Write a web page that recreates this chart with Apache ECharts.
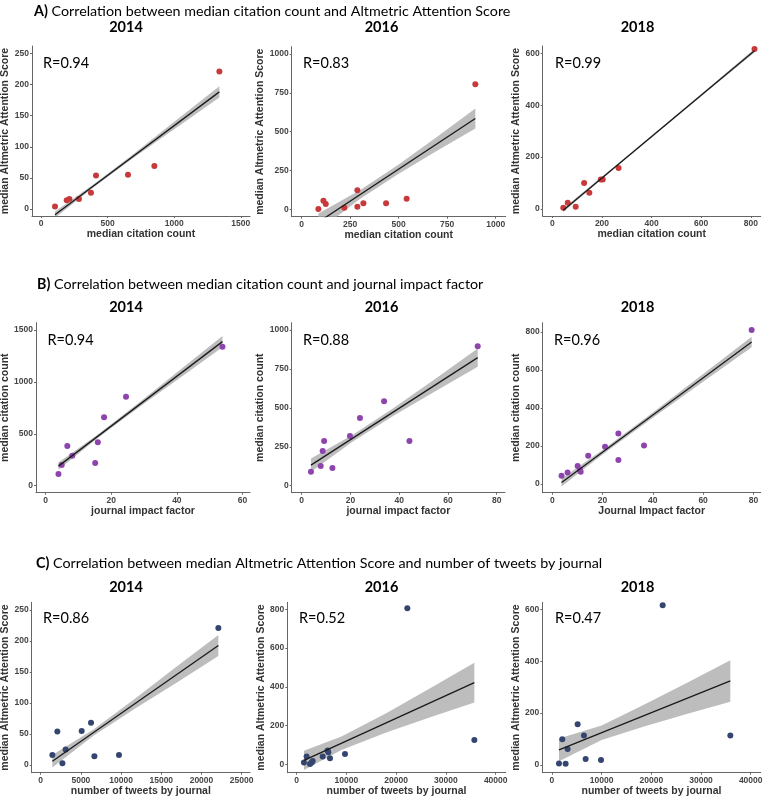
<!DOCTYPE html>
<html>
<head>
<meta charset="utf-8">
<script src="https://cdn.jsdelivr.net/npm/echarts@6/dist/echarts.min.js"></script>
<style>
  html, body { margin: 0; padding: 0; background: #fff; }
  #main { width: 765px; height: 798px; }
</style>
</head>
<body>
<div id="main"></div>
<script>
// ---- data ----
// A) median citation count vs median Altmetric Attention Score
var a14Cite = [105, 193, 213, 285, 375, 413, 653, 851, 1339];
var a14Alt  = [4, 14, 16, 16, 26, 54, 55, 69, 221];
var a16Cite = [86, 112, 124, 220, 287, 287, 318, 435, 541, 895];
var a16Alt  = [2, 56, 34, 11, 124, 17, 39, 39, 69, 805];
var a18Cite = [44, 62, 94, 128, 149, 195, 203, 267, 815];
var a18Alt  = [5, 24, 9, 100, 63, 114, 114, 158, 616];

// B) journal impact factor vs median citation count
var b14Jif  = [3.9, 4.9, 6.6, 8.1, 15.1, 15.9, 17.8, 24.5, 53.9];
var b14Cite = [112, 199, 382, 289, 218, 418, 659, 858, 1340];
var b16Jif  = [3.8, 7.8, 8.6, 9.2, 12.6, 19.8, 23.9, 33.8, 44.2, 72.2];
var b16Cite = [90, 126, 223, 287, 113, 319, 435, 542, 287, 895];
var b18Jif  = [3.7, 6.1, 10.1, 11, 11.3, 14.3, 21, 26.3, 26.3, 36.5, 79.3];
var b18Cite = [44, 61, 95, 74, 65, 149, 196, 266, 126, 203, 809];

// C) number of tweets by journal vs median Altmetric Attention Score
var c14Tweets = [1450, 2070, 2700, 3100, 5100, 6260, 6680, 9740, 22100];
var c14Alt    = [16, 54, 3, 25, 55, 68, 14, 16, 221];
var c16Tweets = [1470, 2010, 2680, 3015, 3220, 5230, 6230, 6365, 6700, 9715, 22245, 35710];
var c16Alt    = [9, 40, 2, 10, 17, 40, 71, 62, 31, 53, 805, 126];
var c18Tweets = [1410, 2080, 2750, 3150, 5170, 6440, 6780, 9870, 22280, 35900];
var c18Alt    = [6, 99, 5, 62, 157, 114, 23, 19, 616, 114];

var rLabels = ['R=0.94', 'R=0.83', 'R=0.99', 'R=0.94', 'R=0.88', 'R=0.96', 'R=0.86', 'R=0.52', 'R=0.47'];
var years = ['2014', '2016', '2018'];

// confidence band: x positions and half widths (y units) read from the grey ribbons
var a14BandX = [105, 400, 700, 1000, 1339],   a14Half = [5, 2.5, 3, 6, 9];
var a16BandX = [86, 300, 500, 700, 895],      a16Half = [55, 28, 30, 45, 64];
var a18BandX = [44, 250, 450, 650, 815],      a18Half = [7, 4, 4, 5, 7];
var b14BandX = [3.9, 16, 29, 41, 53.9],       b14Half = [35, 18, 22, 38, 55];
var b16BandX = [3.8, 21, 38, 55, 72.2],       b16Half = [43, 22, 25, 40, 59];
var b18BandX = [3.7, 20, 40, 60, 79.3],       b18Half = [21, 12, 14, 20, 28];
var c14BandX = [1450, 6600, 11800, 17000, 22100], c14Half = [10, 5, 8, 13, 17];
var c16BandX = [1470, 9000, 18000, 27000, 35710], c16Half = [50, 35, 50, 75, 103];
var c18BandX = [1410, 10000, 18700, 27300, 35900], c18Half = [44, 28, 42, 60, 80];

// tick labels
var ticks250 = [0, 50, 100, 150, 200, 250];
var ticks1000q = [0, 250, 500, 750, 1000];
var ticks600 = [0, 200, 400, 600];
var ticks800 = [0, 200, 400, 600, 800];
var ticks1500 = [0, 500, 1000, 1500];
var ticksJif60 = [0, 20, 40, 60];
var ticksJif80 = [0, 20, 40, 60, 80];
var ticksTw25k = [0, 5000, 10000, 15000, 20000, 25000];
var ticksTw40k = [0, 10000, 20000, 30000, 40000];

// ---- chart ----
var RED = '#c8393b', PURPLE = '#8e44ad', NAVY = '#34466f';
var FONT = 'Liberation Sans';
var TFONT = 'Lato';

var panels = [
  {x: a14Cite, y: a14Alt, bx: a14BandX, bh: a14Half, c: RED,
   g: [32, 46, 218, 170], xr: [-67.6, 1569], yr: [-11.2, 261.8], xt: ticks1500, yt: ticks250,
   xn: 'median citation count', yn: 'median Altmetric Attention Score', yg: 17},
  {x: a16Cite, y: a16Alt, bx: a16BandX, bh: a16Half, c: RED,
   g: [291.7, 46.7, 214, 170], xr: [-51.5, 1051.5], yr: [-47, 1047], xt: ticks1000q, yt: ticks1000q,
   xn: 'median citation count', yn: 'median Altmetric Attention Score', yg: 20.4},
  {x: a18Cite, y: a18Alt, bx: a18BandX, bh: a18Half, c: RED,
   g: [542.7, 46, 218, 170], xr: [-39, 840], yr: [-27, 628], xt: ticks800, yt: ticks600,
   xn: 'median citation count', yn: 'median Altmetric Attention Score', yg: 16.7},
  {x: b14Jif, y: b14Cite, bx: b14BandX, bh: b14Half, c: PURPLE,
   g: [36, 322.7, 214, 170], xr: [-2.95, 62.3], yr: [-67, 1571], xt: ticksJif60, yt: ticks1500,
   xn: 'journal impact factor', yn: 'median citation count', yg: 20},
  {x: b16Jif, y: b16Cite, bx: b16BandX, bh: b16Half, c: PURPLE,
   g: [291.7, 322.7, 213.3, 170], xr: [-4.1, 83.4], yr: [-45, 1047], xt: ticksJif80, yt: ticks1000q,
   xn: 'journal impact factor', yn: 'median citation count', yg: 20.7},
  {x: b18Jif, y: b18Cite, bx: b18BandX, bh: b18Half, c: PURPLE,
   g: [542.7, 322.7, 218, 170], xr: [-3.8, 82.9], yr: [-45.5, 847.6], xt: ticksJif80, yt: ticks800,
   xn: 'Journal Impact factor', yn: 'median citation count', yg: 16.7},
  {x: c14Tweets, y: c14Alt, bx: c14BandX, bh: c14Half, c: NAVY,
   g: [31.7, 602.3, 218.3, 170.4], xr: [-1119, 26036], yr: [-12.4, 262.4], xt: ticksTw25k, yt: ticks250,
   xn: 'number of tweets by journal', yn: 'median Altmetric Attention Score', yg: 16.7},
  {x: c16Tweets, y: c16Alt, bx: c16BandX, bh: c16Half, c: NAVY,
   g: [287.3, 602.3, 218.4, 170.4], xr: [-1876, 42010], yr: [-43, 836], xt: ticksTw40k, yt: ticks800,
   xn: 'number of tweets by journal', yn: 'median Altmetric Attention Score', yg: 17.3},
  {x: c18Tweets, y: c18Alt, bx: c18BandX, bh: c18Half, c: NAVY,
   g: [542.3, 602.3, 218.4, 170.4], xr: [-1946, 42013], yr: [-29.6, 627], xt: ticksTw40k, yt: ticks600,
   xn: 'number of tweets by journal', yn: 'median Altmetric Attention Score', yg: 17.3}
];

// least squares fit, same as geom_smooth(method = "lm")
function lmFit(xs, ys) {
  var n = xs.length, mx = 0, my = 0, sxy = 0, sxx = 0;
  for (var i = 0; i < n; i++) { mx += xs[i]; my += ys[i]; }
  mx /= n; my /= n;
  for (var j = 0; j < n; j++) {
    sxy += (xs[j] - mx) * (ys[j] - my);
    sxx += (xs[j] - mx) * (xs[j] - mx);
  }
  var b = sxy / sxx;
  return { a: my - b * mx, b: b };
}

function makeAxis(min, max, ticks, name, gap, idx) {
  return {
    type: 'value', gridIndex: idx, min: min, max: max,
    name: name, nameLocation: 'middle', nameGap: gap,
    nameTextStyle: { fontFamily: FONT, fontWeight: 'bold', fontSize: 10.5, color: '#333' },
    axisLine: { show: true, onZero: false, lineStyle: { color: '#666', width: 1 } },
    axisTick: { show: true, length: 2, customValues: ticks, lineStyle: { color: '#666' } },
    axisLabel: { customValues: ticks, margin: 3, fontFamily: FONT, fontWeight: 'bold', fontSize: 8.5, color: '#444',
      formatter: function (v) { return String(v); } },
    splitLine: { show: false }
  };
}

var grids = [], xAxes = [], yAxes = [], series = [];
panels.forEach(function (p, k) {
  grids.push({ left: p.g[0], top: p.g[1], width: p.g[2], height: p.g[3], containLabel: false, outerBoundsMode: 'none' });
  xAxes.push(makeAxis(p.xr[0], p.xr[1], p.xt, p.xn, 10, k));
  yAxes.push(makeAxis(p.yr[0], p.yr[1], p.yt, p.yn, p.yg, k));

  var fit = lmFit(p.x, p.y);
  var band = p.bx.map(function (x, i) {
    var yh = fit.a + fit.b * x;
    return [x, yh - p.bh[i], yh + p.bh[i]];
  });
  var x0 = p.bx[0], x1 = p.bx[p.bx.length - 1];

  // grey ribbon as one polygon, lower edge then upper edge back
  series.push({
    type: 'custom', xAxisIndex: k, yAxisIndex: k, silent: true, clip: true,
    data: band,
    encode: { x: 0, y: [1, 2] },
    renderItem: function (params, api) {
      if (params.dataIndex !== 0) return null;
      var pts = [], i;
      for (i = 0; i < band.length; i++) pts.push(api.coord([band[i][0], band[i][1]]));
      for (i = band.length - 1; i >= 0; i--) pts.push(api.coord([band[i][0], band[i][2]]));
      var cs = params.coordSys;
      return {
        type: 'polygon', shape: { points: pts, smooth: 0 },
        style: { fill: '#bdbdbd', stroke: null },
        clipPath: { type: 'rect', shape: { x: cs.x, y: cs.y, width: cs.width, height: cs.height } }
      };
    }
  });
  series.push({
    type: 'line', xAxisIndex: k, yAxisIndex: k,
    data: [[x0, fit.a + fit.b * x0], [x1, fit.a + fit.b * x1]],
    symbol: 'none', silent: true, lineStyle: { color: '#1a1a1a', width: 1.3 }
  });
  series.push({
    type: 'scatter', xAxisIndex: k, yAxisIndex: k,
    data: p.x.map(function (x, i) { return [x, p.y[i]]; }),
    symbolSize: 6, itemStyle: { color: p.c, opacity: 1 }
  });
});

// texts: section headings, years, R values
var titles = [];
var sections = [
  { t: 'A)', s: ' Correlation between median citation count and Altmetric Attention Score', x: 34, y: 11 },
  { t: 'B)', s: ' Correlation between median citation count and journal impact factor', x: 37, y: 284 },
  { t: 'C)', s: ' Correlation between median Altmetric Attention Score and number of tweets by journal', x: 36, y: 563 }
];
sections.forEach(function (s) {
  titles.push({
    text: '{b|' + s.t + '}' + s.s, left: s.x, top: s.y, padding: 0,
    textAlign: 'left', textVerticalAlign: 'middle',
    textStyle: { fontFamily: TFONT, fontSize: 14.3, fontWeight: 'normal', color: '#000',
      rich: { b: { fontFamily: TFONT, fontSize: 14.3, fontWeight: 'bold', color: '#000' } } }
  });
});
var yearX = [126, 381.5, 637.5], yearY = [27, 307, 587];
var rX = [43, 303, 555, 47.5, 303, 554, 43, 299, 555], rY = [63, 340, 618.5];
for (var row = 0; row < 3; row++) {
  for (var col = 0; col < 3; col++) {
    titles.push({
      text: years[col], left: yearX[col], top: yearY[row], padding: 0,
      textAlign: 'center', textVerticalAlign: 'middle',
      textStyle: { fontFamily: TFONT, fontSize: 14.5, fontWeight: 'bold', color: '#000' }
    });
    titles.push({
      text: rLabels[row * 3 + col], left: rX[row * 3 + col], top: rY[row], padding: 0,
      textAlign: 'left', textVerticalAlign: 'middle',
      textStyle: { fontFamily: TFONT, fontSize: 14.5, fontWeight: 'normal', color: '#000' }
    });
  }
}

var myChart = echarts.init(document.getElementById('main'));
myChart.setOption({
  animation: false,
  backgroundColor: '#fff',
  title: titles,
  grid: grids,
  xAxis: xAxes,
  yAxis: yAxes,
  series: series
});
</script>
</body>
</html>
